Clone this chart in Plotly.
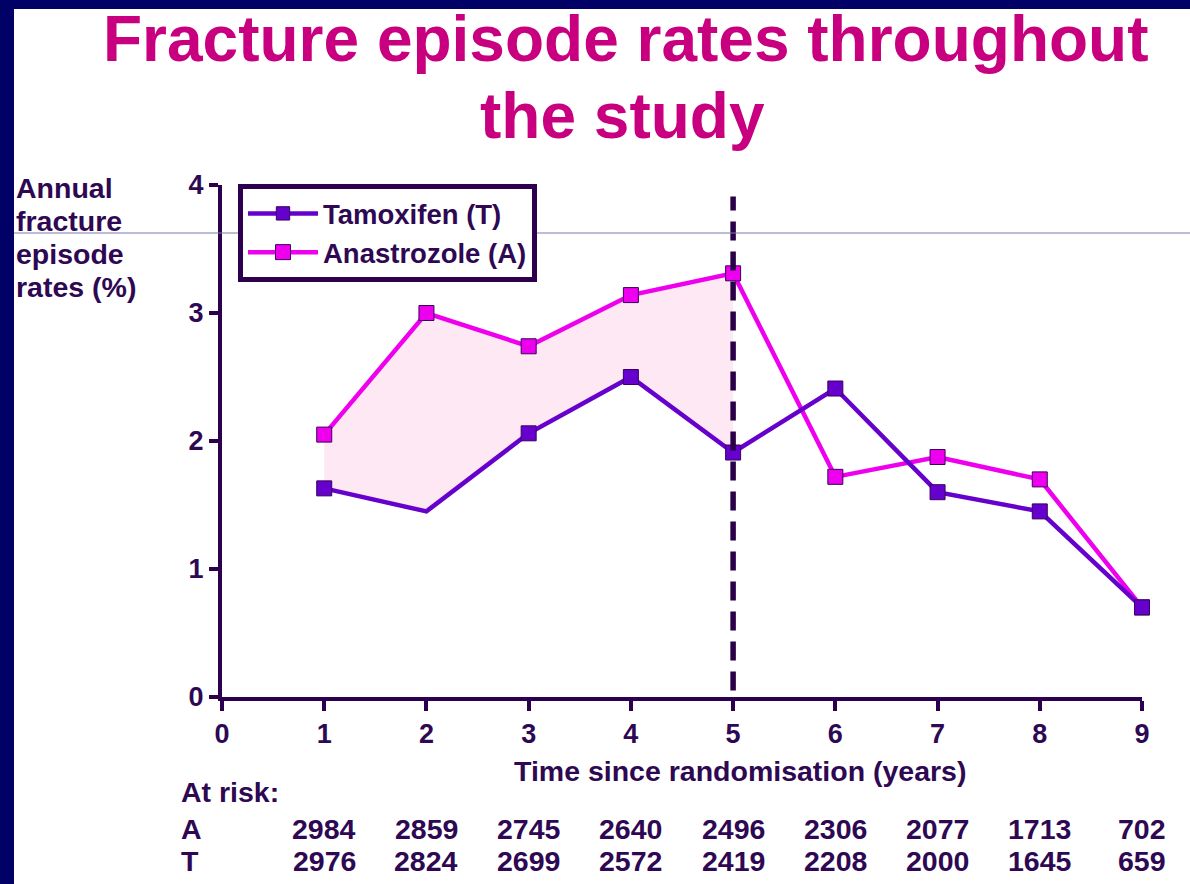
import plotly.graph_objects as go

# ---- data ----
years = [1, 2, 3, 4, 5, 6, 7, 8, 9]
tamoxifen = [1.63, 1.45, 2.06, 2.50, 1.91, 2.41, 1.60, 1.45, 0.70]
anastrozole = [2.05, 3.00, 2.74, 3.14, 3.31, 1.72, 1.875, 1.70, 0.70]
tam_marker_sizes = [15, 0, 15, 15, 15, 15, 15, 15, 15]
fill_years = [1, 2, 3, 4, 5]
x_ticks = [0, 1, 2, 3, 4, 5, 6, 7, 8, 9]
y_ticks = [0, 1, 2, 3, 4]
cutoff_year = 5
cutoff_top = 3.91
y_title_lines = ["Annual", "fracture", "episode", "rates (%)"]
at_risk_A = ["2984", "2859", "2745", "2640", "2496", "2306", "2077", "1713", "702"]
at_risk_T = ["2976", "2824", "2699", "2572", "2419", "2208", "2000", "1645", "659"]

TXT = "#2e0852"
T_COL = "#6600cc"
A_COL = "#ee00ee"
FONT = "Liberation Sans, Arial, sans-serif"
FS = 28.5

# pixel -> paper helpers (plot area: x 222..1142, y 185..697)
L, R, T, B = 222, 1142, 185, 697
def px(x):
    return (x - L) / (R - L)
def py(y):
    return (B - y) / (B - T)

def bold(size, color=TXT):
    return dict(family=FONT, size=size, color=color, weight="bold")

fig = go.Figure()

# shaded band between the two series during treatment
fig.add_trace(go.Scatter(x=fill_years, y=tamoxifen[:5], mode="lines",
                         line=dict(width=0, color=T_COL), showlegend=False,
                         hoverinfo="skip"))
fig.add_trace(go.Scatter(x=fill_years, y=anastrozole[:5], mode="lines",
                         line=dict(width=0, color=A_COL), fill="tonexty",
                         fillcolor="#fde8f3", showlegend=False, hoverinfo="skip"))

fig.add_trace(go.Scatter(x=years, y=anastrozole, mode="lines+markers",
                         name="Anastrozole (A)",
                         line=dict(color=A_COL, width=4.5),
                         marker=dict(symbol="square", size=15, color=A_COL, opacity=1,
                                     line=dict(color="#3a0060", width=1)),
                         cliponaxis=False))
fig.add_trace(go.Scatter(x=years, y=tamoxifen, mode="lines+markers",
                         name="Tamoxifen (T)",
                         line=dict(color=T_COL, width=4.5),
                         marker=dict(symbol="square", size=tam_marker_sizes, color=T_COL,
                                     opacity=1, line=dict(color="#3a0060", width=1)),
                         cliponaxis=False))

shapes = [
    # white slide area over navy page
    dict(type="rect", xref="paper", yref="paper", x0=px(14), x1=px(1195),
         y0=py(890), y1=py(9), fillcolor="white", line=dict(width=0), layer="below"),
    # dashed end-of-treatment line
    dict(type="line", xref="x", yref="y", x0=cutoff_year, x1=cutoff_year, y0=0.05,
         y1=cutoff_top, line=dict(color="#2a0048", width=5.5, dash="19px,11px"),
         layer="above"),
    # thin horizontal rule
    dict(type="line", xref="paper", yref="paper", x0=px(14), x1=px(1190),
         y0=py(233), y1=py(233), line=dict(color="#7b7bb0", width=1), layer="above"),
]

annotations = [
    dict(text="Fracture episode rates throughout", x=px(625), y=py(39),
         xref="paper", yref="paper", showarrow=False, xanchor="center", yanchor="middle",
         font=bold(64, "#c8007f")),
    dict(text="the study", x=px(622), y=py(116),
         xref="paper", yref="paper", showarrow=False, xanchor="center", yanchor="middle",
         font=bold(64, "#c8007f")),
    dict(text="Time since randomisation (years)", x=px(740), y=py(771),
         xref="paper", yref="paper", showarrow=False, xanchor="center", yanchor="middle",
         font=bold(FS)),
    dict(text="At risk:", x=px(179), y=py(792), xref="paper", yref="paper",
         showarrow=False, xanchor="left", yanchor="middle", font=bold(FS)),
    dict(text="A", x=px(179), y=py(829), xref="paper", yref="paper",
         showarrow=False, xanchor="left", yanchor="middle", font=bold(FS)),
    dict(text="T", x=px(179), y=py(861), xref="paper", yref="paper",
         showarrow=False, xanchor="left", yanchor="middle", font=bold(FS)),
]
for i, line in enumerate(y_title_lines):
    annotations.append(dict(text=line, x=px(14), y=py(188 + 33 * i), xref="paper",
                            yref="paper", showarrow=False, xanchor="left",
                            yanchor="middle", font=bold(FS)))
for yr, a, t in zip(years, at_risk_A, at_risk_T):
    annotations.append(dict(text=a, x=yr, y=py(829), xref="x", yref="paper",
                            showarrow=False, xanchor="center", yanchor="middle",
                            font=bold(FS)))
    annotations.append(dict(text=t, x=yr, y=py(861), xref="x", yref="paper",
                            showarrow=False, xanchor="center", yanchor="middle",
                            font=bold(FS)))

fig.update_layout(
    width=1190, height=884,
    margin=dict(l=L, r=1190 - R, t=T, b=884 - B),
    paper_bgcolor="#000066", plot_bgcolor="white",
    font=dict(family=FONT, color=TXT, size=FS, weight="bold"),
    shapes=shapes, annotations=annotations,
    showlegend=True,
    legend=dict(x=px(238), y=py(184), xanchor="left", yanchor="top",
                bgcolor="white", bordercolor="#2d004f", borderwidth=5,
                traceorder="reversed",
                font=bold(27.5),
                tracegroupgap=0, itemwidth=70),
    xaxis=dict(range=[0, 9], tickvals=x_ticks, showline=True, linecolor="#2d004f",
               linewidth=4, ticks="outside", ticklen=10, tickwidth=4, tickcolor="#2d004f",
               showgrid=False, zeroline=False, tickfont=bold(27)),
    yaxis=dict(range=[0, 4], tickvals=y_ticks, showline=True, linecolor="#2d004f",
               linewidth=4, ticks="outside", ticklen=9, tickwidth=4, tickcolor="#2d004f",
               showgrid=False, zeroline=False, tickfont=bold(27)),
)

fig.write_html("out.html", config={"displayModeBar": False},
               post_script="document.body.style.margin='0';document.body.style.overflow='hidden';")
